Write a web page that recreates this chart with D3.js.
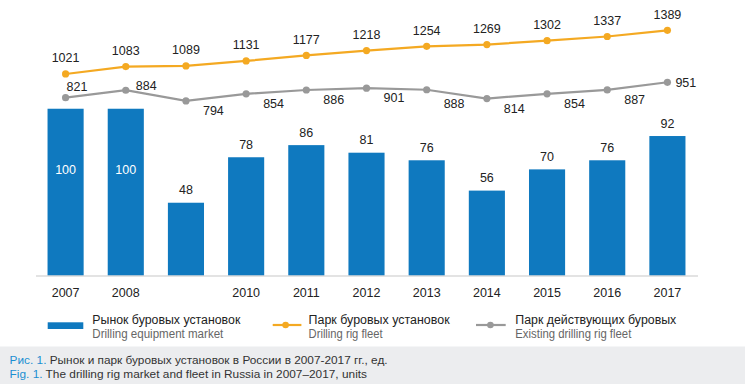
<!DOCTYPE html>
<html><head><meta charset="utf-8">
<script src="https://cdn.jsdelivr.net/npm/d3@7/dist/d3.min.js"></script>
<style>
html,body{margin:0;padding:0;background:#fff;}
svg{display:block;font-family:"Liberation Sans",Arial,Helvetica,sans-serif;}
</style></head><body>
<svg id="chart" width="750" height="390"></svg>
<script>
// ---- data ----
const years = ["2007","2008","2009","2010","2011","2012","2013","2014","2015","2016","2017"];
const yearTickLabels = ["2007","2008","","2010","2011","2012","2013","2014","2015","2016","2017"];
// Drilling equipment market (labels)
const marketValues = [100, 100, 48, 78, 86, 81, 76, 56, 70, 76, 92];
// bar length as drawn in the reference (first two bars are drawn taller than their label)
const marketBarLengths = [110, 110, 48, 78, 86, 81, 76, 56, 70, 76, 92];
// Drilling rig fleet
const fleetValues = [1021, 1083, 1089, 1131, 1177, 1218, 1254, 1269, 1302, 1337, 1389];
// Existing drilling rig fleet
const activeValues = [821, 884, 794, 854, 886, 901, 888, 814, 854, 887, 951];
const activeLabelSide = ["above","upright","below","below","below","below","below","below","below","below","right"];

const legendRu = ["Рынок буровых установок","Парк буровых установок","Парк действующих буровых"];
const legendEn = ["Drilling equipment market","Drilling rig fleet","Existing drilling rig fleet"];
const captionRu = ["Рис. 1.", " Рынок и парк буровых установок в России в 2007-2017 гг., ед."];
const captionEn = ["Fig. 1.", " The drilling rig market and fleet in Russia in 2007–2017, units"];

// ---- styles ----
const BLUE = "#0f79bf", ORANGE = "#f4a922", GRAY = "#999999", TEXT = "#222";

const svg = d3.select("#chart");

const x = d3.scaleBand().domain(years).range([35.5, 697.5]).paddingInner(0.4).paddingOuter(0.2);
const yBar = d3.scaleLinear().domain([0, 100]).range([275.5, 123.9]);
const yLine = d3.scaleLinear().domain([800, 1400]).range([100.2, 29.0]);
const cx = d => x(d) + x.bandwidth() / 2;

// bars
svg.append("g").selectAll("rect").data(years).join("rect")
  .attr("x", d => x(d)).attr("width", x.bandwidth())
  .attr("y", (d, i) => yBar(marketBarLengths[i]))
  .attr("height", (d, i) => yBar(0) - yBar(marketBarLengths[i]))
  .attr("fill", BLUE);

// bar labels
svg.append("g").selectAll("text").data(years).join("text")
  .attr("x", d => cx(d))
  .attr("y", (d, i) => marketValues[i] >= 100 ? yBar(marketBarLengths[i]) + 65.5 : yBar(marketBarLengths[i]) - 8.5)
  .attr("text-anchor", "middle")
  .attr("font-size", 12.5)
  .attr("fill", (d, i) => marketValues[i] >= 100 ? "#fff" : TEXT)
  .text((d, i) => marketValues[i]);

// axis
const axis = svg.append("g").attr("transform", `translate(0,${yBar(0)})`)
  .call(d3.axisBottom(x).tickSize(0).tickSizeOuter(0).tickFormat((d, i) => yearTickLabels[i]));
axis.select(".domain").attr("stroke", "#c8c8c8").attr("stroke-width", 1.2);
axis.selectAll("text").attr("dy", null).attr("y", 21.5).attr("font-size", 12.5)
  .attr("fill", TEXT).attr("font-family", null);

// lines
const lineGen = vals => d3.line().x((d, i) => cx(years[i])).y(d => yLine(d))(vals);
svg.append("path").attr("d", lineGen(activeValues)).attr("fill", "none")
  .attr("stroke", GRAY).attr("stroke-width", 2.2);
svg.append("path").attr("d", lineGen(fleetValues)).attr("fill", "none")
  .attr("stroke", ORANGE).attr("stroke-width", 2.2);

svg.append("g").selectAll("circle").data(activeValues).join("circle")
  .attr("cx", (d, i) => cx(years[i])).attr("cy", d => yLine(d)).attr("r", 3.6).attr("fill", GRAY);
svg.append("g").selectAll("circle").data(fleetValues).join("circle")
  .attr("cx", (d, i) => cx(years[i])).attr("cy", d => yLine(d)).attr("r", 3.6).attr("fill", ORANGE);

// fleet labels
svg.append("g").selectAll("text").data(fleetValues).join("text")
  .attr("x", (d, i) => cx(years[i])).attr("y", d => yLine(d) - 11.5)
  .attr("text-anchor", "middle").attr("font-size", 12.5).attr("fill", TEXT)
  .text(d => d);

// active labels
const off = {above: [1, -7.2], upright: [10, -0.5], below: [17, 14], right: [8, 4.5]};
svg.append("g").selectAll("text").data(activeValues).join("text")
  .attr("x", (d, i) => cx(years[i]) + off[activeLabelSide[i]][0])
  .attr("y", (d, i) => yLine(d) + off[activeLabelSide[i]][1] + (activeLabelSide[i] === "below" && (i === 6) ? 4 : 0))
  .attr("font-size", 12.5).attr("fill", TEXT)
  .text(d => d);

// legend
const lg = svg.append("g");
lg.append("rect").attr("x", 47.7).attr("y", 322.3).attr("width", 35.6).attr("height", 6.7).attr("fill", BLUE);
[[272.7, 301.4, 285.6, ORANGE], [476, 505.7, 490.4, GRAY]].forEach(([a, b, m, c]) => {
  lg.append("line").attr("x1", a).attr("x2", b).attr("y1", 325).attr("y2", 325).attr("stroke", c).attr("stroke-width", 2.2);
  lg.append("circle").attr("cx", m).attr("cy", 325).attr("r", 3.3).attr("fill", c);
});
const legX = [92.3, 308.6, 515.3];
const legW1 = [148, 141, 161];
const legW2 = [131, 74, 116];
legendRu.forEach((t, i) => {
  lg.append("text").attr("x", legX[i]).attr("y", 324.2).attr("font-size", 12).attr("fill", TEXT)
    .attr("textLength", legW1[i]).attr("lengthAdjust", "spacingAndGlyphs").text(t);
  lg.append("text").attr("x", legX[i]).attr("y", 338.2).attr("font-size", 12).attr("fill", "#666")
    .attr("textLength", legW2[i]).attr("lengthAdjust", "spacingAndGlyphs").text(legendEn[i]);
});

// caption
svg.append("rect").attr("x", 0).attr("y", 346.5).attr("width", 745).attr("height", 37.5).attr("fill", "#ecedef");
[[captionRu, 364, 378], [captionEn, 378.3, 357.4]].forEach(([parts, y, w]) => {
  const t = svg.append("text").attr("x", 9.6).attr("y", y).attr("font-size", 11.2)
    .attr("textLength", w).attr("lengthAdjust", "spacingAndGlyphs");
  t.append("tspan").attr("fill", "#1b8fd2").text(parts[0]);
  t.append("tspan").attr("fill", "#333").text(parts[1]);
});
</script>
</body></html>
